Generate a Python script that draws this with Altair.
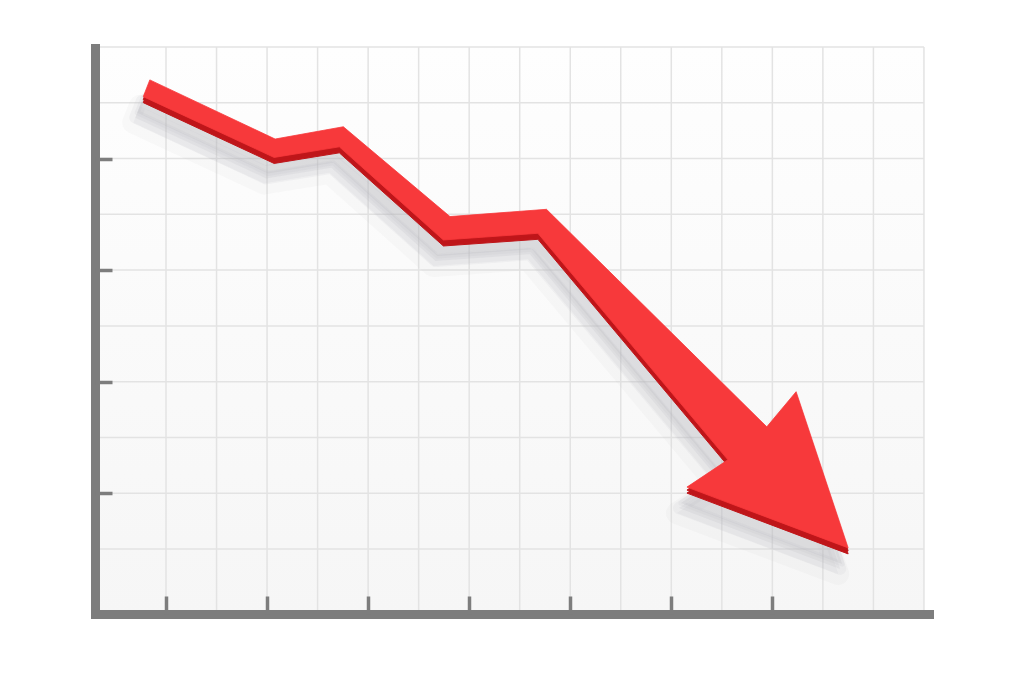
import altair as alt
import pandas as pd

# ---- structure of the chart (data units) ----
grid_x = list(range(0, 16))          # vertical grid lines
grid_y = list(range(1, 11))          # horizontal grid lines
tick_x = [0, 2, 4, 6, 8, 10, 12]     # x-axis tick positions
tick_y = [2, 4, 6, 8]                # y-axis tick positions

# ---- the falling arrow (outline of its top face, data units) ----
arrow_x = [-0.32, 2.16, 3.51, 5.62, 7.53, 11.89, 12.47, 13.50,
           10.31, 11.12, 7.36, 5.49, 3.43, 2.14, -0.45]
arrow_y = [9.41, 8.35, 8.57, 6.96, 7.09, 3.19, 3.82, 1.02,
           2.11, 2.60, 6.66, 6.54, 8.21, 8.02, 9.11]

X_DOMAIN = [-1.405, 15.10]
Y_DOMAIN = [-0.165, 9.982]
W, H = 834, 566

RED = "#f7393b"
DARK = "#bf161a"
AXIS = "#7d7d7d"
GRID = "#e3e3e3"
SHADOW = "#b4b2bb"

xs = alt.Scale(domain=X_DOMAIN, nice=False, zero=False)
ys = alt.Scale(domain=Y_DOMAIN, nice=False, zero=False)

arrow = pd.DataFrame({"x": arrow_x, "y": arrow_y, "i": list(range(len(arrow_x)))})

bg = pd.DataFrame({"x0": [X_DOMAIN[0]], "x1": [max(grid_x)],
                   "y0": [Y_DOMAIN[0]], "y1": [max(grid_y)]})
vgrid = pd.DataFrame({"gx": grid_x, "top": max(grid_y), "bot": Y_DOMAIN[0]})
hgrid = pd.DataFrame({"gy": grid_y, "left": X_DOMAIN[0], "right": max(grid_x)})

background = alt.Chart(bg).mark_rect(
    fill=alt.LinearGradient(
        gradient="linear",
        stops=[alt.GradientStop(color="#fefefe", offset=0),
               alt.GradientStop(color="#f6f6f6", offset=1)],
        x1=0, x2=0, y1=0, y2=1),
).encode(
    x=alt.X("x0:Q", scale=xs, axis=None), x2="x1",
    y=alt.Y("y0:Q", scale=ys, axis=None), y2="y1",
)

vlines = alt.Chart(vgrid).mark_rule(color=GRID, strokeWidth=1.5).encode(
    x=alt.X("gx:Q", scale=xs, axis=None),
    y=alt.Y("top:Q", scale=ys, axis=None), y2="bot",
)
hlines = alt.Chart(hgrid).mark_rule(color=GRID, strokeWidth=1.5).encode(
    y=alt.Y("gy:Q", scale=ys, axis=None),
    x=alt.X("left:Q", scale=xs, axis=None), x2="right",
)


def poly(**kw):
    return alt.Chart(arrow).mark_line(interpolate="linear-closed", **kw).encode(
        x=alt.X("x:Q", scale=xs, axis=None),
        y=alt.Y("y:Q", scale=ys, axis=None),
        order=alt.Order("i:Q"),
    )


shadow_layers = [
    poly(fill=SHADOW, fillOpacity=0.10, stroke=SHADOW, strokeOpacity=0.07,
         strokeWidth=22, strokeJoin="round", xOffset=-10, yOffset=26),
    poly(fill=SHADOW, fillOpacity=0.16, stroke=SHADOW, strokeOpacity=0.10,
         strokeWidth=12, strokeJoin="round", xOffset=-8, yOffset=21),
    poly(fill=SHADOW, fillOpacity=0.20, stroke=SHADOW, strokeOpacity=0.12,
         strokeWidth=5, strokeJoin="round", xOffset=-6, yOffset=16),
]
side = poly(fill=DARK, stroke=DARK, strokeWidth=1, strokeJoin="miter", yOffset=6)
side2 = poly(fill=DARK, stroke=DARK, strokeWidth=1, strokeJoin="miter", yOffset=3)
top = poly(fill=RED, stroke=RED, strokeWidth=0.8, strokeJoin="miter")

# axes: thick domain lines and inward-pointing ticks
domain_axes = alt.Chart(arrow).mark_point(opacity=0).encode(
    x=alt.X("x:Q", scale=xs, title=None,
            axis=alt.Axis(domain=True, domainColor=AXIS, domainWidth=9,
                          domainCap="square", ticks=False, labels=False,
                          grid=False, zindex=2)),
    y=alt.Y("y:Q", scale=ys, title=None,
            axis=alt.Axis(domain=True, domainColor=AXIS, domainWidth=9,
                          domainCap="square", ticks=False, labels=False,
                          grid=False, zindex=2)),
)
tick_axes = alt.Chart(arrow).mark_point(opacity=0).encode(
    x=alt.X("x:Q", scale=xs, title=None,
            axis=alt.Axis(orient="bottom", offset=-18, domain=False,
                          labels=False, grid=False, ticks=True, tickSize=18,
                          tickWidth=3.5, tickColor=AXIS, values=tick_x,
                          zindex=2)),
    y=alt.Y("y:Q", scale=ys, title=None,
            axis=alt.Axis(orient="left", offset=-17, domain=False,
                          labels=False, grid=False, ticks=True, tickSize=17,
                          tickWidth=3.5, tickColor=AXIS, values=tick_y,
                          zindex=2)),
)

chart = alt.layer(
    background, vlines, hlines, *shadow_layers, side, side2, top,
    domain_axes, tick_axes,
).resolve_axis(x="independent", y="independent").properties(
    width=W, height=H,
    padding={"left": 87, "top": 40, "right": 10, "bottom": 10},
    autosize="none",
).configure_view(strokeWidth=0)

chart.save("out.html", embed_options={"renderer": "svg", "actions": False})
